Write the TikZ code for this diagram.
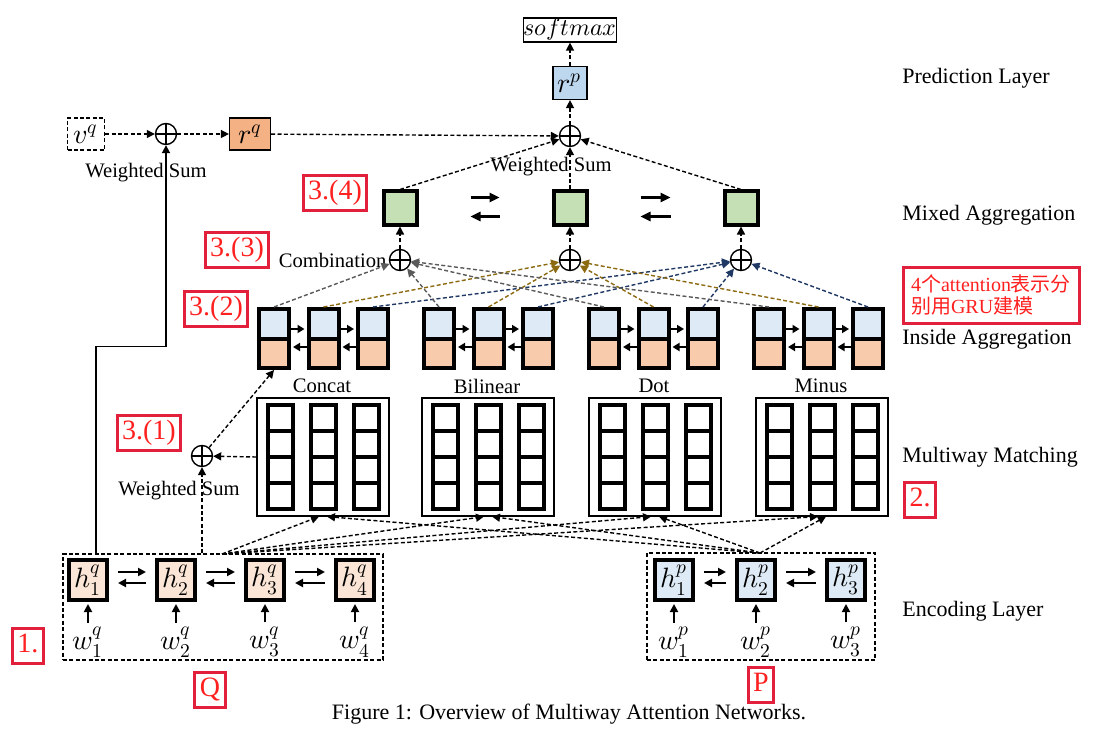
\documentclass[tikz,border=0pt]{standalone}
\usepackage{fontspec}
\usepackage{unicode-math}
\setmainfont{Liberation Serif}
\setmathfont{Latin Modern Math}
\newfontfamily\cjk{Noto Sans CJK SC}
\usetikzlibrary{arrows.meta, positioning, calc}
\definecolor{cellblue}{HTML}{DEEBF7}
\definecolor{cellorange}{HTML}{F8CBAD}
\definecolor{rpblue}{HTML}{BDD7EE}
\definecolor{rqorange}{HTML}{F4B183}
\definecolor{mixgreen}{HTML}{C5E0B4}
\definecolor{hqpeach}{HTML}{FBE5D6}
\definecolor{combgray}{HTML}{5A5A5A}
\definecolor{combgold}{HTML}{8C6A10}
\definecolor{combnavy}{HTML}{1F3864}
\definecolor{noteframe}{HTML}{E3203C}
\definecolor{notetext}{HTML}{FF2020}

\begin{document}
\begin{tikzpicture}[
    x=0.5pt, y=-0.5pt,
    font=\fontsize{10.3}{12}\selectfont,
    dsh/.style={line width=0.7pt, dash pattern=on 2pt off 1.2pt},
    darr/.style={dsh, -{Triangle[length=4pt, width=4pt]}},
    sarr/.style={line width=0.9pt, -{Triangle[length=4pt, width=4pt]}},
    cellarr/.style={line width=0.9pt, -{Triangle[length=3.5pt, width=4pt]}, shorten >=1pt},
    mixarr/.style={line width=1.2pt, -{Triangle[length=5pt, width=4.5pt]}, shorten <=26pt, shorten >=26pt},
    encarr/.style={line width=1.1pt, -{Triangle[length=4pt, width=4pt]}, shorten <=4.5pt, shorten >=4.5pt},
    oplus/.style={circle, draw, line width=0.7pt, fill=white, minimum size=10.5pt, inner sep=0pt,
        path picture={\draw[line width=0.6pt] (path picture bounding box.north) -- (path picture bounding box.south)
            (path picture bounding box.west) -- (path picture bounding box.east);}},
    vecbox/.style={draw, line width=0.6pt, inner sep=0pt, minimum width=17pt, minimum height=16.5pt, font=\fontsize{14}{16}\selectfont},
    hbox/.style={draw, line width=2pt, inner sep=0pt, minimum width=19pt, minimum height=20pt, font=\fontsize{14}{16}\selectfont},
    wlabel/.style={inner sep=1pt, font=\fontsize{14}{16}\selectfont},
    mixbox/.style={draw, line width=2pt, fill=mixgreen, minimum size=16.5pt, inner sep=0pt},
    cellbox/.style={draw, line width=2pt, fill=cellblue, minimum width=15pt, minimum height=29.5pt, inner sep=0pt,
        path picture={\fill[cellorange] (path picture bounding box.west) rectangle (path picture bounding box.south east);
            \draw[line width=2pt] (path picture bounding box.west) -- (path picture bounding box.east);}},
    matchbox/.style={draw, line width=0.6pt, minimum width=66pt, minimum height=59pt, inner sep=0pt},
    colbox/.style={draw, line width=2pt, minimum width=12.5pt, minimum height=52pt, inner sep=0pt,
        path picture={\foreach \f in {0.25,0.5,0.75}
            \draw[line width=2pt] ($(path picture bounding box.north west)!\f!(path picture bounding box.south west)$)
                -- ($(path picture bounding box.north east)!\f!(path picture bounding box.south east)$);}},
    grpbox/.style={draw, dsh, line width=0.6pt, inner sep=0pt},
    layerlabel/.style={anchor=west, inner sep=0pt, font=\fontsize{11}{13}\selectfont},
    notebox/.style={draw=noteframe, line width=1.5pt, text=notetext, inner sep=2.5pt, text height=9.8pt, text depth=3pt, font=\fontsize{14}{16}\selectfont}
]
\path[fill=white, use as bounding box] (0,0) rectangle (1093,738);

% prediction and question side
\node[draw, line width=0.6pt, inner sep=0pt, minimum width=42.5pt, minimum height=12pt, font=\fontsize{12}{14}\selectfont] (softmax) at (570,30) {$softmax$};
\node[vecbox, fill=rpblue] (rp) at (570,83) {$r^p$};
\node[oplus] (wsump) at (570,136) {};
\node (wsumplab) at (551,167) {Weighted Sum};
\node[vecbox, dsh, line width=0.6pt, minimum width=18.5pt, minimum height=16pt] (vq) at (86,134) {$v^q$};
\node[oplus] (wsumq) at (166,134) {};
\node (wsumqlab) at (146,173) {Weighted Sum};
\node[vecbox, fill=rqorange, minimum width=20.5pt, minimum height=16pt] (rq) at (250,134) {$r^q$};

% mixed aggregation and combination
\foreach \i/\cx in {1/400, 2/570, 3/741} {
    \node[mixbox] (mix\i) at (\cx,208) {};
    \node[oplus] (comb\i) at (\cx,260) {};
}
\node[anchor=east, inner sep=1pt] (comblab) at (comb1.west) {Combination};

% inside aggregation
\foreach \g in {0,...,3}
    \foreach \j in {0,1,2}
        \node[cellbox] (c\g\j) at ({274+165*\g+49.5*\j},338.5) {};

% multiway matching
\foreach \i/\cx/\lab in {1/323/Concat, 2/488/Bilinear, 3/655/Dot, 4/822/Minus} {
    \node (lab\i) at (\cx-1,386) {\lab};
    \node[matchbox] (m\i) at (\cx,457) {};
    \foreach \dx/\k in {-43/a, 0/b, 43/c}
        \node[colbox] (m\i\k) at ($(m\i)+(\dx,0)$) {};
}
\node[oplus] (wsumm) at (202,456) {};
\node (wsummlab) at (179,491) {Weighted Sum};

% encoding layer
\node[grpbox, minimum width=160pt, minimum height=53pt] (qbox) at (223,607) {};
\node[grpbox, minimum width=114pt, minimum height=53.5pt] (pbox) at (761,606.5) {};
\foreach \i/\cx in {1/88, 2/176, 3/265, 4/355} {
    \node[hbox, fill=hqpeach] (hq\i) at (\cx,580) {$h_{\i}^{q}$};
    \node[wlabel] (wq\i) at (\cx,642) {$w_{\i}^{q}$};
    \draw[sarr, shorten <=1pt, shorten >=1pt] (wq\i) -- (hq\i);
}
\foreach \i/\cx in {1/674, 2/756, 3/846} {
    \node[hbox, fill=cellblue] (hp\i) at (\cx,580) {$h_{\i}^{p}$};
    \node[wlabel] (wp\i) at (\cx,642) {$w_{\i}^{p}$};
    \draw[sarr, shorten <=1pt, shorten >=1pt] (wp\i) -- (hp\i);
}
\coordinate (qsrc) at (222,554);
\coordinate (psrc) at (760,553);

% layer names
\node[layerlabel] (predlab) at (902,78) {Prediction Layer};
\node[layerlabel] (mixlab) at (902,215) {Mixed Aggregation};
\node[layerlabel] (insidelab) at (902,339) {Inside Aggregation};
\node[layerlabel] (matchlab) at (902,457) {Multiway Matching};
\node[layerlabel] (enclab) at (902,611) {Encoding Layer};

% notes
\node[notebox] (note34) at (335,193) {3.(4)};
\node[notebox] (note33) at (237,250) {3.(3)};
\node[notebox] (note32) at (216,309) {3.(2)};
\node[notebox] (note31) at (149,433) {3.(1)};
\node[notebox] (note1) at (28,646) {1.};
\node[notebox] (note2) at (920,500) {2.};
\node[notebox] (noteq) at (210,690) {Q};
\node[notebox] (notep) at (761,685) {P};
\node[draw=noteframe, line width=1.5pt, text=notetext, align=left, inner sep=1.5pt, minimum width=88pt, minimum height=28pt,
    font=\fontsize{10}{11}\selectfont] (notegru) at (991,295) {4{\cjk 个}attention{\cjk 表示分}\\{\cjk 别用}GRU{\cjk 建模}};

\node[font=\fontsize{11}{13}\selectfont] (caption) at (569,714) {Figure 1: Overview of Multiway Attention Networks.};

% connectors
\draw[darr] (rp) -- (softmax);
\draw[darr] (wsump) -- (rp);
\draw[darr] (vq) -- (wsumq);
\draw[darr] (wsumq) -- (rq);
\draw[darr] (rq) -- (wsump);
\foreach \i in {1,2,3} {
    \draw[darr] (mix\i.north) -- (wsump);
    \draw[darr] (comb\i) -- (mix\i);
}
\draw[mixarr] ([yshift=5.25pt]mix1.east) -- ([yshift=5.25pt]mix2.west);
\draw[mixarr] ([yshift=-4.25pt]mix2.west) -- ([yshift=-4.25pt]mix1.east);
\draw[mixarr] ([yshift=5.25pt]mix2.east) -- ([yshift=5.25pt]mix3.west);
\draw[mixarr] ([yshift=-4.25pt]mix3.west) -- ([yshift=-4.25pt]mix2.east);

\foreach \g in {0,...,3} {
    \draw[darr, draw=combgray] (c\g0.north) -- (comb1);
    \draw[darr, draw=combgold] (c\g1.north) -- (comb2);
    \draw[darr, draw=combnavy] (c\g2.north) -- (comb3);
    \foreach \j/\k in {0/1, 1/2} {
        \draw[cellarr] ([yshift=4.75pt]c\g\j.east) -- ([yshift=4.75pt]c\g\k.west);
        \draw[cellarr] ([yshift=-4.25pt]c\g\k.west) -- ([yshift=-4.25pt]c\g\j.east);
    }
}

\draw[darr] (m1.west) -- (wsumm);
\draw[darr] (wsumm) -- (c00.south);
\draw[darr] (qbox.north -| wsumm) -- (wsumm);
\draw[sarr] ([xshift=4pt]qbox.north -| hq1) -- ++(0,-207) -| (wsumq);
\foreach \i in {1,...,4} {
    \draw[darr] (qsrc) -- ([xshift=-2pt]m\i.south);
    \draw[darr] (psrc) -- ([xshift=2pt]m\i.south);
}

\foreach \a/\b in {hq1/hq2, hq2/hq3, hq3/hq4, hp1/hp2, hp2/hp3} {
    \draw[encarr] ([yshift=4pt]\a.east) -- ([yshift=4pt]\b.west);
    \draw[encarr] ([yshift=-1.5pt]\b.west) -- ([yshift=-1.5pt]\a.east);
}
\end{tikzpicture}
\end{document}
